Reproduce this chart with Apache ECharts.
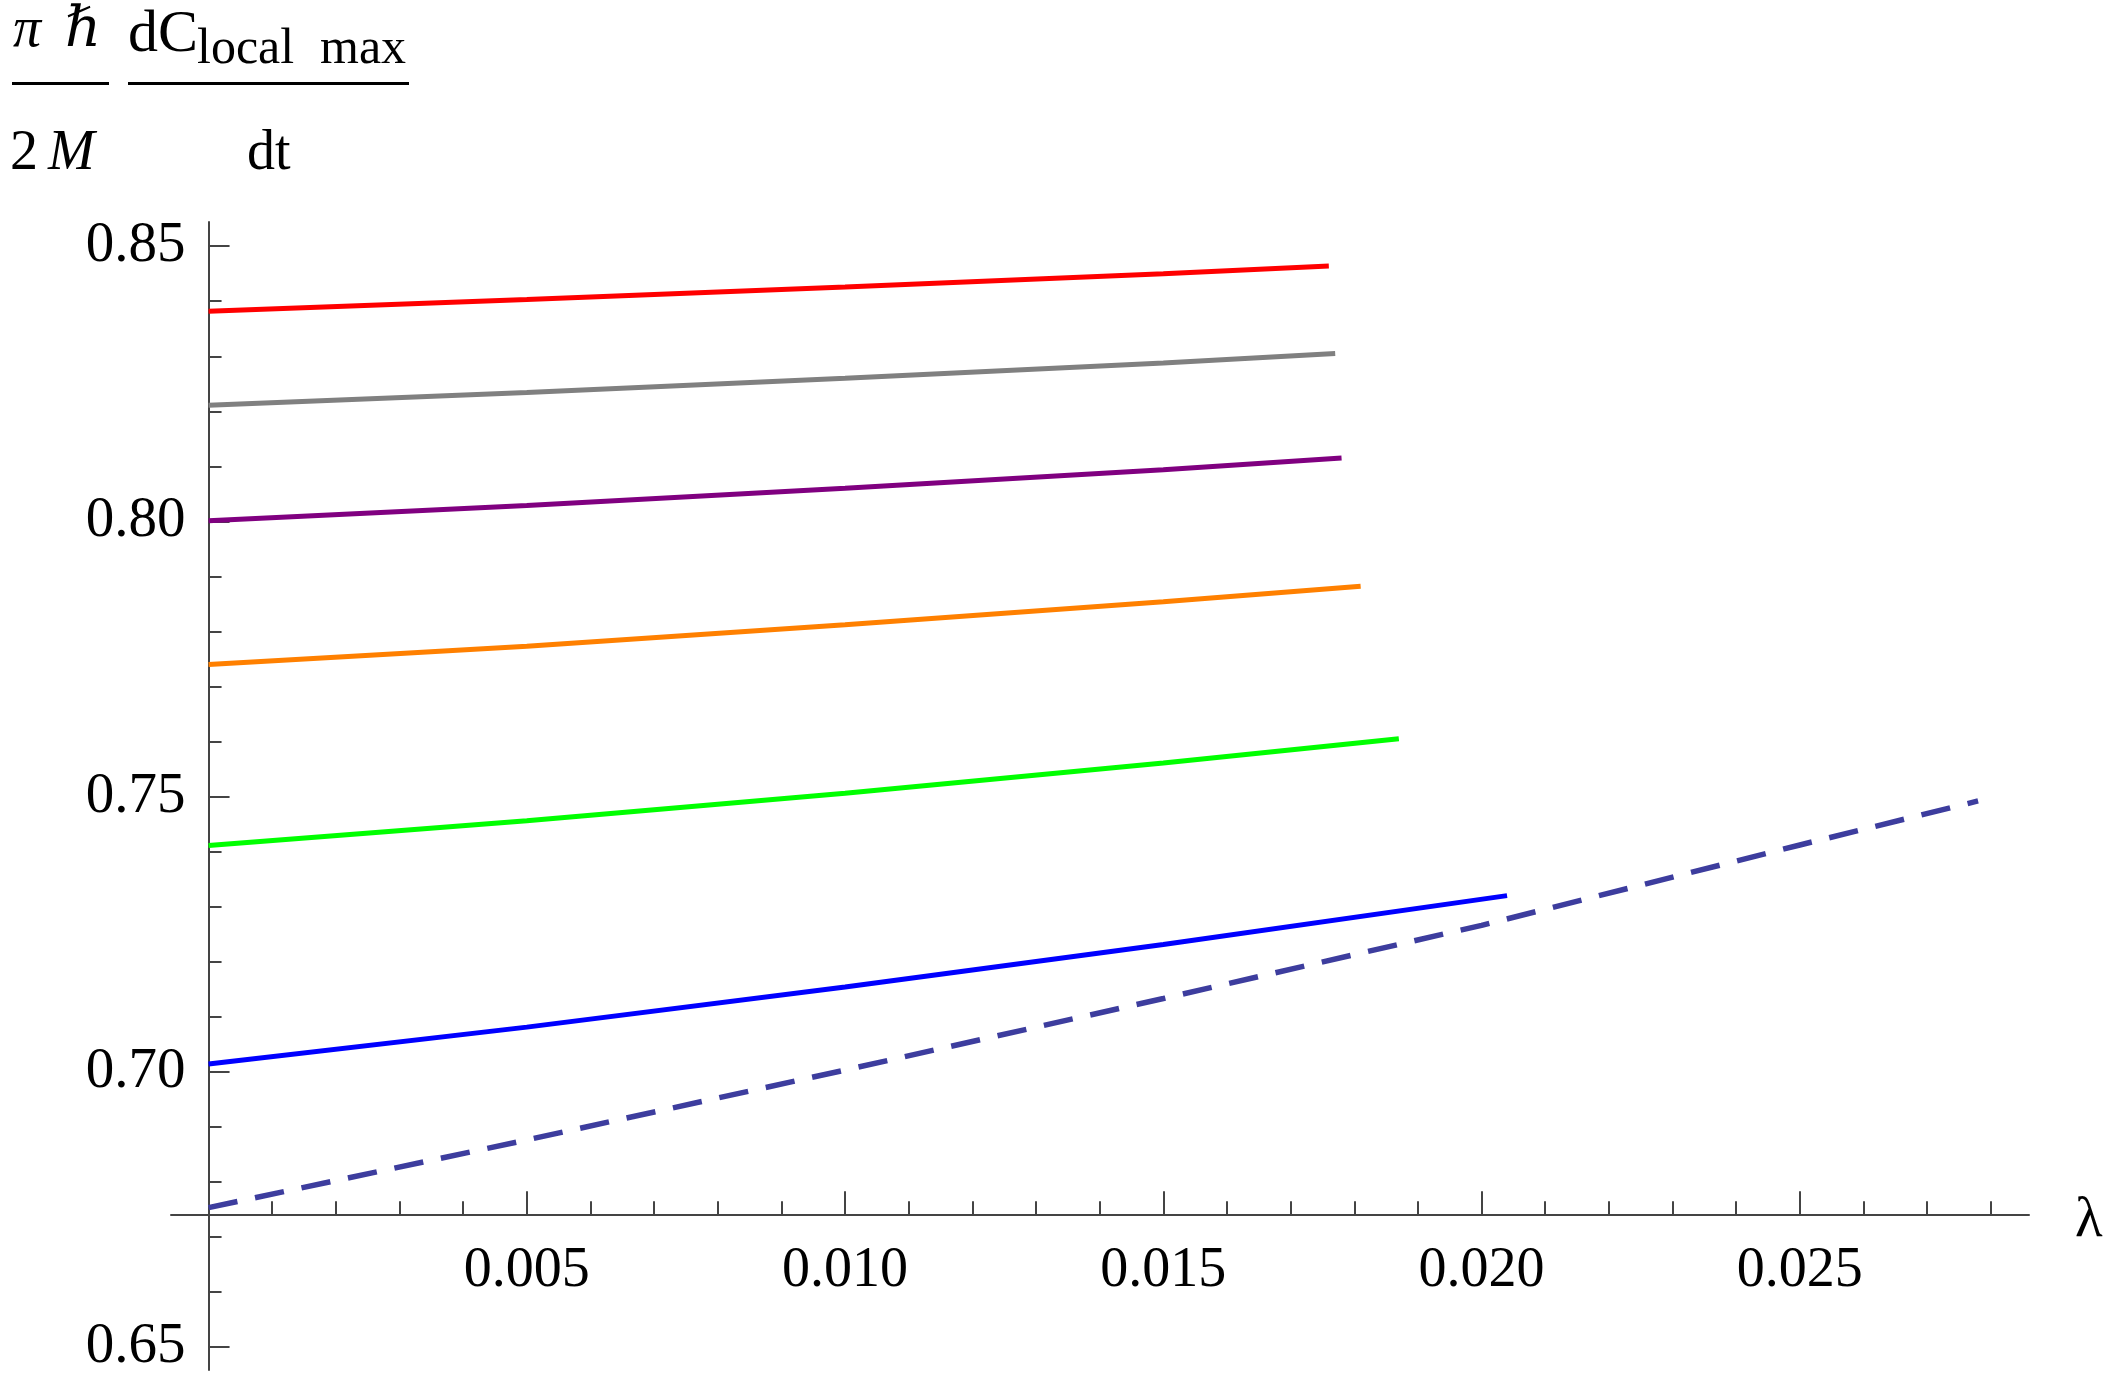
<!DOCTYPE html>
<html>
<head>
<meta charset="utf-8">
<script src="https://cdn.jsdelivr.net/npm/echarts@6/dist/echarts.min.js"></script>
<style>
  html, body { margin: 0; padding: 0; background: #fff; }
  #chart { width: 2113px; height: 1384px; }
</style>
</head>
<body>
<div id="chart"></div>
<script>
// values (lambda -> rate)
const redX = [0, 0.005, 0.010, 0.015, 0.0176];
const redY = [0.8382, 0.8403, 0.8426, 0.8450, 0.8464];
const grayX = [0, 0.005, 0.010, 0.015, 0.0177];
const grayY = [0.8211, 0.8234, 0.8260, 0.8288, 0.8305];
const purpleX = [0, 0.005, 0.010, 0.015, 0.0178];
const purpleY = [0.8001, 0.8029, 0.8060, 0.8094, 0.8115];
const orangeX = [0, 0.005, 0.010, 0.015, 0.0181];
const orangeY = [0.7740, 0.7773, 0.7812, 0.7854, 0.7882];
const greenX = [0, 0.005, 0.010, 0.015, 0.0187];
const greenY = [0.7411, 0.7456, 0.7506, 0.7561, 0.7605];
const blueX = [0, 0.005, 0.010, 0.015, 0.0204];
const blueY = [0.7014, 0.7081, 0.7154, 0.7231, 0.7320];
const dashX = [0, 0.005, 0.010, 0.015, 0.020, 0.025, 0.0278];
const dashY = [0.6753, 0.6876, 0.7003, 0.7133, 0.7266, 0.7412, 0.7492];

const xMajorTicks = [0.005, 0.010, 0.015, 0.020, 0.025];
const xMinorTicks = [0.001, 0.002, 0.003, 0.004, 0.005, 0.006, 0.007, 0.008, 0.009, 0.010,
  0.011, 0.012, 0.013, 0.014, 0.015, 0.016, 0.017, 0.018, 0.019, 0.020,
  0.021, 0.022, 0.023, 0.024, 0.025, 0.026, 0.027, 0.028];
const yMajorTicks = [0.65, 0.70, 0.75, 0.80, 0.85];
const yMinorTicks = [0.65, 0.66, 0.67, 0.68, 0.69, 0.70, 0.71, 0.72, 0.73, 0.74, 0.75,
  0.76, 0.77, 0.78, 0.79, 0.80, 0.81, 0.82, 0.83, 0.84, 0.85];

const X_MIN = -0.00059, X_MAX = 0.0286;
const Y_MIN = 0.6458, Y_MAX = 0.8544;
const X_AXIS_AT = 0.6741; // height where the lambda axis crosses
const Y_AXIS_AT = 0;      // lambda where the vertical axis stands

const serif = '"Liberation Serif", "DejaVu Serif", serif';
const axisColor = '#444';
const W = 2113, H = 1384;
const gridLeft = 171, gridRight = 84, gridTop = 222, gridBottom = 14;
const gridW = W - gridLeft - gridRight;
const gridH = H - gridTop - gridBottom;
const xOffset = -(X_AXIS_AT - Y_MIN) / (Y_MAX - Y_MIN) * gridH;
const yOffset = -(Y_AXIS_AT - X_MIN) / (X_MAX - X_MIN) * gridW;

function curve(xs, ys, color, dashed) {
  return {
    type: 'line',
    data: xs.map((x, i) => [x, ys[i]]),
    symbol: 'none',
    clip: false,
    silent: true,
    lineStyle: {color: color, width: dashed ? 5.5 : 5, type: dashed ? [29.5, 18] : 'solid', cap: 'butt'}
  };
}

function txt(x, y, s, size, italic) {
  return {
    type: 'text', x: x, y: y, silent: true,
    style: {
      text: s, fill: '#000', verticalAlign: 'middle', align: 'left',
      font: (italic ? 'italic ' : '') + size + 'px ' + serif
    }
  };
}

const chart = echarts.init(document.getElementById('chart'));
chart.setOption({
  animation: false,
  backgroundColor: '#fff',
  grid: {left: gridLeft, right: gridRight, top: gridTop, bottom: gridBottom, containLabel: false, outerBoundsMode: 'none'},
  xAxis: [{
    type: 'value', min: X_MIN, max: X_MAX, position: 'bottom', offset: xOffset,
    axisLine: {onZero: false, lineStyle: {color: axisColor, width: 2}},
    axisTick: {inside: true, length: 23, customValues: xMajorTicks, lineStyle: {color: axisColor, width: 2}},
    axisLabel: {
      customValues: xMajorTicks, margin: 29, color: '#000', fontFamily: serif, fontSize: 56,
      formatter: v => v.toFixed(3)
    },
    splitLine: {show: false}
  }, {
    type: 'value', min: X_MIN, max: X_MAX, position: 'bottom', offset: xOffset,
    axisLine: {show: false, onZero: false},
    axisTick: {inside: true, length: 13, customValues: xMinorTicks, lineStyle: {color: axisColor, width: 2}},
    axisLabel: {show: false},
    splitLine: {show: false}
  }],
  yAxis: [{
    type: 'value', min: Y_MIN, max: Y_MAX, position: 'left', offset: yOffset,
    axisLine: {onZero: false, lineStyle: {color: axisColor, width: 2}},
    axisTick: {inside: true, length: 21, customValues: yMajorTicks, lineStyle: {color: axisColor, width: 2}},
    axisLabel: {
      customValues: yMajorTicks, margin: 23, color: '#000', fontFamily: serif, fontSize: 57,
      padding: [10, 0, 0, 0],
      formatter: v => v.toFixed(2)
    },
    splitLine: {show: false}
  }, {
    type: 'value', min: Y_MIN, max: Y_MAX, position: 'left', offset: yOffset,
    axisLine: {show: false, onZero: false},
    axisTick: {inside: true, length: 13, customValues: yMinorTicks, lineStyle: {color: axisColor, width: 2}},
    axisLabel: {show: false},
    splitLine: {show: false}
  }],
  series: [
    curve(redX, redY, '#FF0000'),
    curve(grayX, grayY, '#808080'),
    curve(purpleX, purpleY, '#800080'),
    curve(orangeX, orangeY, '#FF8000'),
    curve(greenX, greenY, '#00FF00'),
    curve(blueX, blueY, '#0000FF'),
    curve(dashX, dashY, '#3D3D9E', true)
  ],
  graphic: [
    // axis titles
    txt(2075, 1221, 'λ', 57, false),
    txt(13, 31, 'π', 56, true),
    txt(65, 31, 'ℏ', 56, true),
    {type: 'rect', silent: true, shape: {x: 12, y: 82, width: 97, height: 3}, style: {fill: '#000'}},
    txt(10, 154, '2', 56, false),
    txt(48, 154, 'M', 56, true),
    txt(128, 35, 'dC', 60, false),
    txt(197, 50, 'local', 50, false),
    txt(320, 50, 'max', 50, false),
    {type: 'rect', silent: true, shape: {x: 128, y: 82, width: 281, height: 3}, style: {fill: '#000'}},
    txt(247, 154, 'dt', 56, false)
  ]
});
</script>
</body>
</html>
